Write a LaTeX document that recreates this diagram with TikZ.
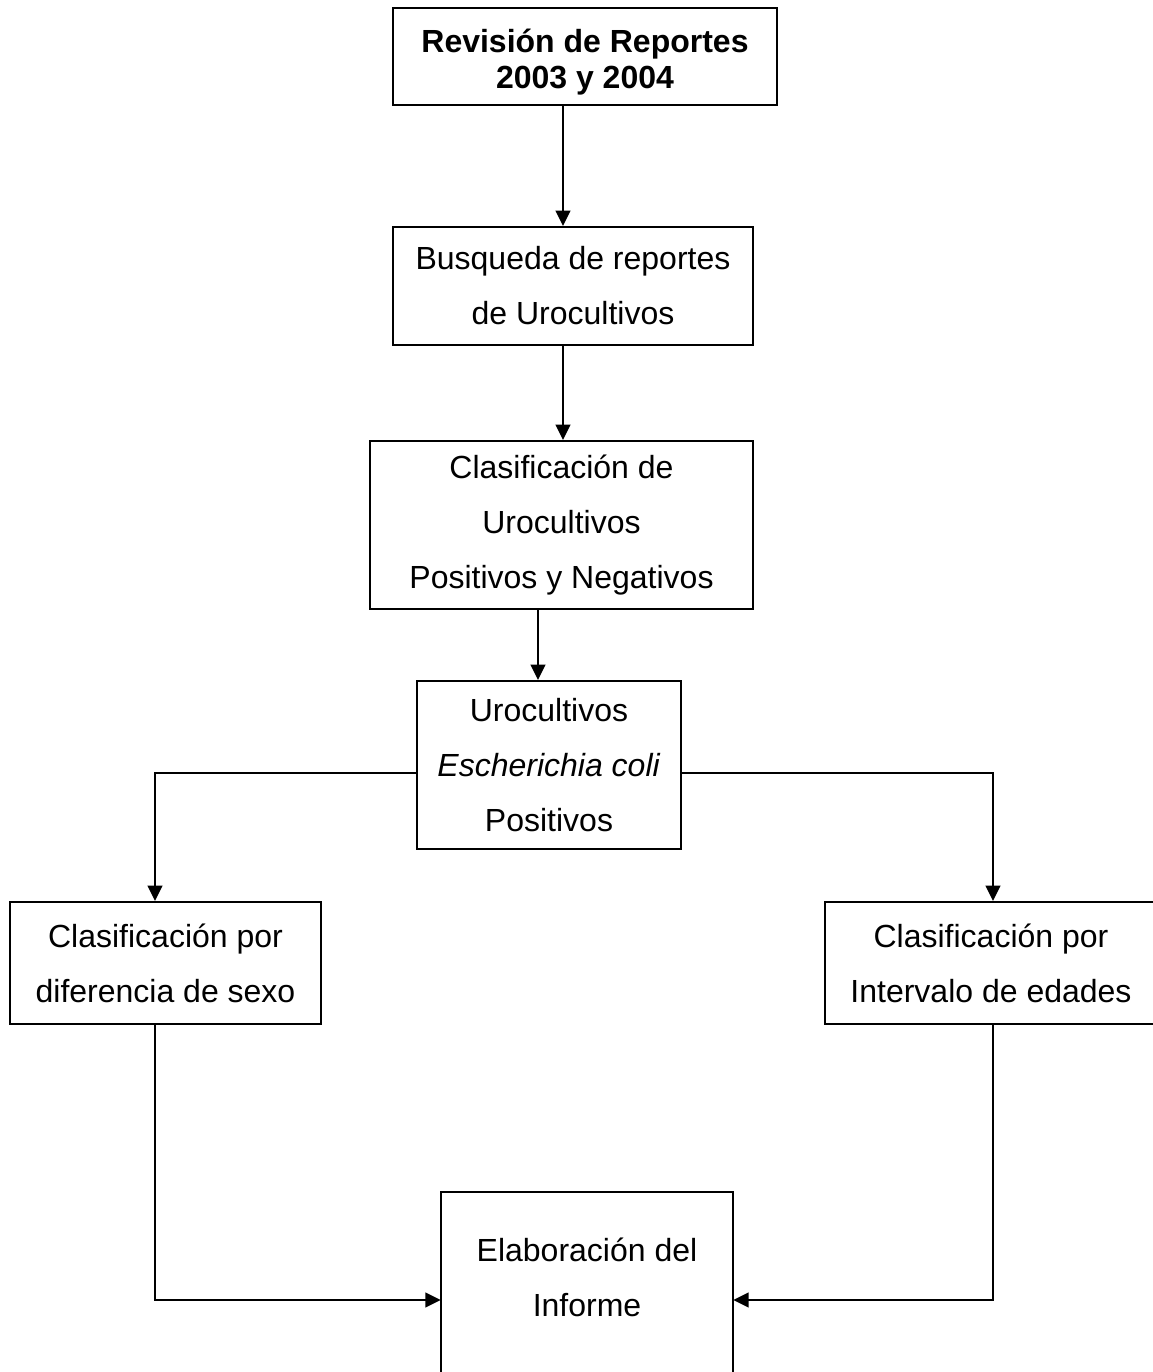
\documentclass[tikz,border=0pt]{standalone}
\usepackage{fontspec}
\setmainfont{Liberation Sans}
\usetikzlibrary{arrows.meta}
\tikzset{
  box/.style={draw=black, line width=1.45pt, inner sep=0pt, align=center,
    font=\fontsize{24}{41.25}\selectfont},
  textonly/.style={inner sep=0pt, align=center, font=\fontsize{24}{41.25}\selectfont},
  boxline/.style={draw=black, line width=1.45pt},
  arr/.style={draw=black, line width=1.45pt, -{Triangle[length=11.5pt,width=11pt]}},
}
\begin{document}
\begin{tikzpicture}[x=0.75pt, y=-0.75pt]
\path[use as bounding box, clip] (0,0) rectangle (1153,1372);
\fill[white] (0,0) rectangle (1153,1372);

\node[box, minimum width=288pt, minimum height=72.75pt,
      font=\fontsize{24}{27}\selectfont\bfseries] (box1) at (585,56.5)
  {\raisebox{-5pt}[\height][\depth]{\begin{tabular}{@{}c@{}}Revisión de Reportes\\2003 y 2004\end{tabular}}};
\node[box, minimum width=270pt, minimum height=88.5pt] (box2) at (573,286)
  {Busqueda de reportes\\de Urocultivos};
\node[box, minimum width=287.25pt, minimum height=126pt] (box3) at (561.5,525)
  {Clasificación de\\Urocultivos\\Positivos y Negativos};
\node[box, minimum width=198pt, minimum height=126pt] (box4) at (549,765)
  {Urocultivos\\\textit{Escherichia coli}\\Positivos};
\node[box, minimum width=233.25pt, minimum height=91.5pt] (box5) at (165.5,963)
  {Clasificación por\\diferencia de sexo};
\node[box, minimum width=249pt, minimum height=91.5pt] (box6) at (991,963)
  {Clasificación por\\Intervalo de edades};
\node[textonly, minimum width=219pt, minimum height=127.5pt] (box7) at (587,1277)
  {Elaboración del\\Informe};
\draw[boxline] (box7.north west) rectangle ([yshift=-60pt]box7.south east);

\coordinate (xa) at (563,0);
\coordinate (xb) at (538,0);
\coordinate (xl) at (155,0);
\coordinate (xr) at (993,0);
\coordinate (yh) at (0,773);
\coordinate (yb) at (0,1300);

\draw[arr] (box1.south -| xa) -- (box2.north -| xa);
\draw[arr] (box2.south -| xa) -- (box3.north -| xa);
\draw[arr] (box3.south -| xb) -- (box4.north -| xb);
\draw[arr] (box4.west |- yh) -| (box5.north -| xl);
\draw[arr] (box4.east |- yh) -| (box6.north -| xr);
\draw[arr] (box5.south -| xl) |- (box7.west |- yb);
\draw[arr] (box6.south -| xr) |- (box7.east |- yb);
\end{tikzpicture}
\end{document}
